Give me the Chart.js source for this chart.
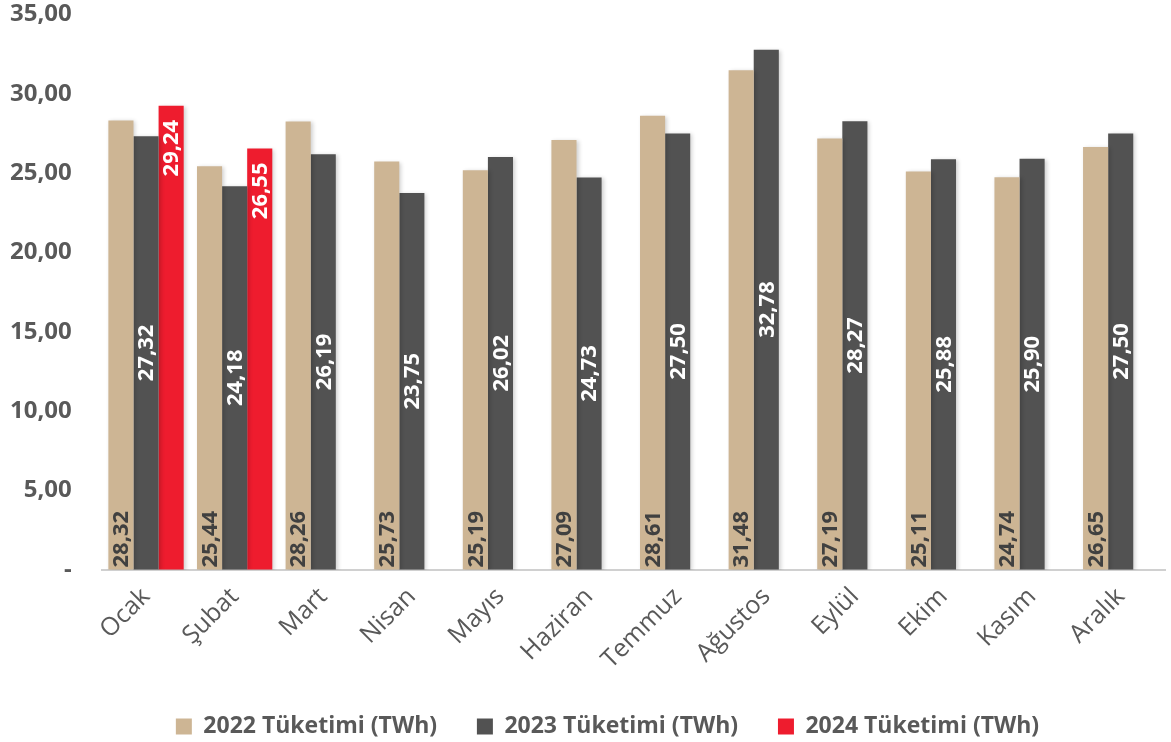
<!DOCTYPE html>
<html>
<head>
<meta charset="utf-8">
<script src="https://cdn.jsdelivr.net/npm/chart.js@4"></script>
<style>
  html, body { margin: 0; padding: 0; background: #fff; }
  #wrap { width: 1171px; height: 742px; position: relative; }
</style>
</head>
<body>
<div id="wrap"><canvas id="chart"></canvas></div>
<script>
// Months (Turkish)
const months = ['Ocak', 'Şubat', 'Mart', 'Nisan', 'Mayıs', 'Haziran', 'Temmuz', 'Ağustos', 'Eylül', 'Ekim', 'Kasım', 'Aralık'];

// Consumption values (TWh)
const values2022 = [28.32, 25.44, 28.26, 25.73, 25.19, 27.09, 28.61, 31.48, 27.19, 25.11, 24.74, 26.65];
const values2023 = [27.32, 24.18, 26.19, 23.75, 26.02, 24.73, 27.50, 32.78, 28.27, 25.88, 25.90, 27.50];
const values2024 = [29.24, 26.55, null, null, null, null, null, null, null, null, null, null];

const seriesNames = ['2022 Tüketimi (TWh)', '2023 Tüketimi (TWh)', '2024 Tüketimi (TWh)'];
const seriesColors = ['#CDB594', '#525252', '#EE1C2E'];

// y axis: 0..35 step 5
const yMin = 0;
const yMax = 35;
const yStep = 5;

function fmt(v) {
    return v.toFixed(2).replace('.', ',');
}

// Draw rotated value labels inside the bars
const barLabels = {
    id: 'barLabels',
    afterDatasetsDraw(chart) {
        const ctx = chart.ctx;
        chart.data.datasets.forEach((ds, i) => {
            const meta = chart.getDatasetMeta(i);
            meta.data.forEach((bar, j) => {
                const v = ds.data[j];
                if (v === null || v === undefined) return;
                ctx.save();
                ctx.font = 'bold 22px "Open Sans"';
                ctx.translate(bar.x, 0);
                ctx.rotate(-Math.PI / 2);
                ctx.textBaseline = 'middle';
                if (i === 0) {
                    // near the base, dark text
                    ctx.fillStyle = '#404040';
                    ctx.textAlign = 'left';
                    ctx.fillText(fmt(v), -bar.base + 2, 1);
                } else if (i === 1) {
                    ctx.fillStyle = '#ffffff';
                    ctx.textAlign = 'center';
                    ctx.fillText(fmt(v), -(bar.y + bar.base) / 2, 1);
                } else {
                    ctx.fillStyle = '#ffffff';
                    ctx.textAlign = 'right';
                    ctx.fillText(fmt(v), -bar.y - 14, 1);
                }
                ctx.restore();
            });
        });
    }
};

// Soft shadow under bars
const barShadow = {
    id: 'barShadow',
    beforeDatasetsDraw(chart) {
        const ctx = chart.ctx;
        ctx.save();
        ctx.shadowColor = 'rgba(0,0,0,0.18)';
        ctx.shadowBlur = 4;
        ctx.shadowOffsetX = 2;
        ctx.shadowOffsetY = 1;
    },
    afterDatasetsDraw(chart) {
        chart.ctx.restore();
    }
};

// Nudge the legend a little to the right and down
const legendShift = {
    id: 'legendShift',
    afterLayout(chart) {
        const lg = chart.legend;
        if (!lg) return;
        lg.left += 20;
        lg.right += 20;
        lg.top += 6;
        lg.bottom += 6;
    }
};

const chart = new Chart(document.getElementById('chart'), {
    type: 'bar',
    data: {
        labels: months,
        datasets: [
            { label: seriesNames[0], data: values2022, backgroundColor: seriesColors[0] },
            { label: seriesNames[1], data: values2023, backgroundColor: seriesColors[1] },
            { label: seriesNames[2], data: values2024, backgroundColor: seriesColors[2] }
        ]
    },
    options: {
        responsive: true,
        maintainAspectRatio: false,
        animation: false,
        layout: { padding: { left: 10, right: 6, top: 0, bottom: 0 } },
        datasets: {
            bar: { categoryPercentage: 0.85, barPercentage: 1.0 }
        },
        plugins: {
            legend: {
                position: 'bottom',
                labels: {
                    boxWidth: 16,
                    boxHeight: 16,
                    padding: 4,
                    color: '#595959',
                    font: { family: '"Open Sans"', size: 23, weight: 'bold' },
                    // trailing spaces widen the gap between legend items
                    generateLabels(chart) {
                        const items = Chart.defaults.plugins.legend.labels.generateLabels(chart);
                        items.forEach((it, k) => {
                            if (k < items.length - 1) it.text = it.text + '\u00a0\u00a0\u00a0\u00a0\u00a0\u00a0';
                        });
                        return items;
                    }
                }
            },
            tooltip: { enabled: false }
        },
        scales: {
            x: {
                grid: { display: false },
                border: { display: true, color: '#D0D0D0', width: 2 },
                ticks: {
                    minRotation: 45,
                    maxRotation: 45,
                    padding: 4,
                    color: '#595959',
                    font: { family: '"Open Sans"', size: 25 }
                },
                afterFit(scale) {
                    scale.height = 135;
                }
            },
            y: {
                min: yMin,
                max: yMax,
                grid: {
                    display: true,
                    drawOnChartArea: false,
                    drawTicks: true,
                    tickLength: 30,
                    color: 'rgba(0,0,0,0)'
                },
                border: { display: false },
                ticks: {
                    stepSize: yStep,
                    padding: 0,
                    color: '#595959',
                    font: { family: '"Open Sans"', size: 24, weight: 'bold' },
                    callback: v => v === 0 ? '-' : fmt(v)
                }
            }
        }
    },
    plugins: [barShadow, barLabels, legendShift]
});
</script>
</body>
</html>
